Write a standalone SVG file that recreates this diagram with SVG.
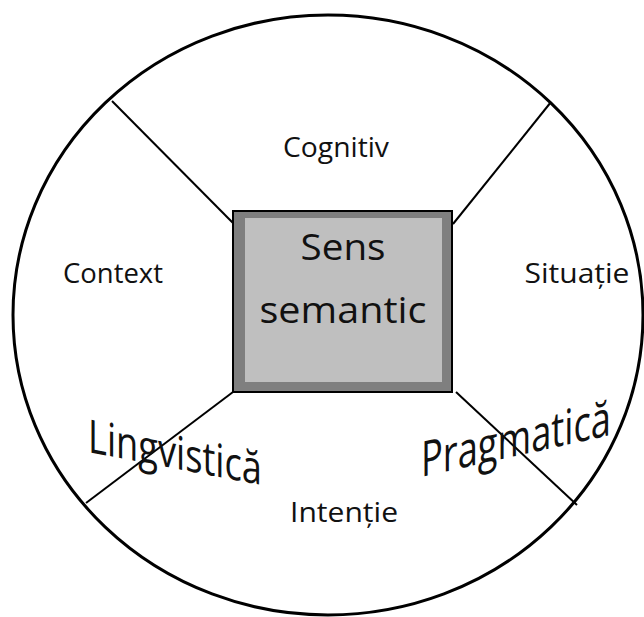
<svg xmlns="http://www.w3.org/2000/svg" width="644" height="617" viewBox="0 0 644 617">
<style>
.lbl{font-family:"Open Sans","Noto Sans","DejaVu Sans",sans-serif;fill:#111;text-anchor:middle}
.conn{stroke:#000;stroke-width:2;fill:none}
</style>
<rect width="644" height="617" fill="#fff"/>
<g id="circle">
<ellipse cx="328" cy="315" rx="315" ry="300" fill="none" stroke="#000" stroke-width="3"/>
</g>
<g id="connectors">
<line class="conn" x1="112" y1="101" x2="233" y2="223"/>
<line class="conn" x1="551" y1="102" x2="453" y2="224"/>
<line class="conn" x1="233" y1="392" x2="86" y2="503"/>
<line class="conn" x1="456" y1="392" x2="577" y2="505"/>
</g>
<g id="center">
<rect x="233" y="211" width="219" height="181" fill="#7f7f7f" stroke="#000" stroke-width="2"/>
<rect x="245" y="218" width="197" height="164" fill="#bfbfbf"/>
<text class="lbl" x="343" y="260" font-size="36" textLength="85" lengthAdjust="spacingAndGlyphs">Sens</text>
<text class="lbl" x="343" y="323" font-size="36" textLength="167" lengthAdjust="spacingAndGlyphs">semantic</text>
</g>
<g id="cognitiv"><text class="lbl" x="336" y="157" font-size="27" textLength="106" lengthAdjust="spacingAndGlyphs">Cognitiv</text></g>
<g id="context"><text class="lbl" x="113" y="283" font-size="27" textLength="100" lengthAdjust="spacingAndGlyphs">Context</text></g>
<g id="situatie"><text class="lbl" x="577" y="283" font-size="27" textLength="105" lengthAdjust="spacingAndGlyphs">Situație</text></g>
<g id="intentie"><text class="lbl" x="344" y="522" font-size="27" textLength="108" lengthAdjust="spacingAndGlyphs">Intenție</text></g>
<g id="lingvistica"><text class="lbl" style="text-anchor:start" transform="translate(88,452) skewY(10.8)" font-size="46" textLength="174" lengthAdjust="spacingAndGlyphs">Lingvistică</text></g>
<g id="pragmatica"><text class="lbl" style="text-anchor:start" transform="translate(421,477) skewY(-12.5)" font-size="49" textLength="190" lengthAdjust="spacingAndGlyphs">Pragmatică</text></g>
</svg>
